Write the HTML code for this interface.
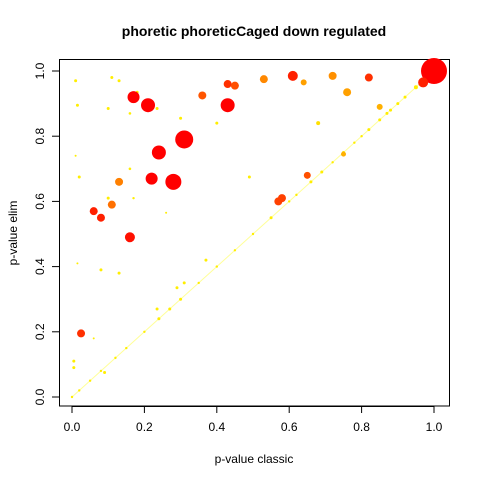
<!DOCTYPE html>
<html><head><meta charset="utf-8"><style>
body{margin:0;background:#fff}
svg{display:block;font-family:"Liberation Sans",Arial,sans-serif}
</style></head><body>
<svg id="chart" width="480" height="480" viewBox="0 0 480 480">
<text x="254" y="36" text-anchor="middle" font-size="14" font-weight="bold">phoretic phoreticCaged down regulated</text>
<rect x="59.5" y="59.5" width="390" height="346.5" fill="none" stroke="#000"/>
<g id="xaxis"></g>
<g id="yaxis"></g>
<text x="254" y="463" text-anchor="middle" font-size="12">p-value classic</text>
<text transform="translate(17,233) rotate(-90)" text-anchor="middle" font-size="12">p-value elim</text>
<g id="pts"></g>
</svg>
<script>
const ticks=[0,0.2,0.4,0.6,0.8,1.0];
const tickLabels=["0.0","0.2","0.4","0.6","0.8","1.0"];
const classicP=[1.0,0.31,0.28,0.24,0.21,0.17,0.22,0.43,0.36,0.43,0.45,0.13,0.11,0.06,0.08,0.16,0.53,0.61,0.64,0.72,0.82,0.76,0.85,0.68,0.65,0.57,0.58,0.75,0.97,0.025,
0.01,0.11,0.13,0.015,0.10,0.16,0.235,0.18,0.30,0.40,0.01,0.16,0.02,0.49,0.10,0.17,0.26,0.08,0.13,0.37,0.29,0.31,0.235,0.005,0.005,0.09,0.015,0.06,
0,0.02,0.05,0.08,0.12,0.15,0.2,0.24,0.27,0.3,0.35,0.4,0.45,0.5,0.55,0.6,0.62,0.66,0.69,0.72,0.75,0.78,0.8,0.82,0.85,0.87,0.88,0.9,0.92,0.95,0.98,0.99];
const elimP=[1.0,0.79,0.66,0.75,0.895,0.92,0.67,0.895,0.925,0.96,0.955,0.66,0.59,0.57,0.55,0.49,0.975,0.985,0.965,0.985,0.98,0.935,0.89,0.84,0.68,0.60,0.61,0.745,0.965,0.195,
0.97,0.98,0.97,0.895,0.885,0.87,0.885,0.935,0.855,0.84,0.74,0.70,0.675,0.675,0.61,0.61,0.565,0.39,0.38,0.42,0.335,0.35,0.27,0.11,0.09,0.075,0.41,0.18,
0,0.02,0.05,0.08,0.12,0.15,0.2,0.24,0.27,0.3,0.35,0.4,0.45,0.5,0.55,0.6,0.62,0.66,0.69,0.72,0.75,0.78,0.8,0.82,0.85,0.87,0.88,0.9,0.92,0.95,0.98,0.99];
const pointSize=[13,9,8,7,7,6,6,7,4,4,4,4,4,4,4,5,4,5,3,4,4,4,3,2,3.5,4,4,2.5,5,4,
1.5,1.5,1.5,1.5,1.5,1.3,1.5,1.5,1.5,1.5,1,1.3,1.5,1.5,1.5,1.2,1,1.5,1.5,1.5,1.5,1.5,1.5,1.5,1.5,1.5,1,1,
1.2,1.2,1.2,1.2,1.2,1.2,1.2,1.5,1.5,1.5,1.2,1.2,1.2,1.2,1.5,1.2,1.2,1.5,1.5,1.2,1.5,1.2,1.2,1.5,1.5,1.5,1.5,1.5,1.5,2,2.5,2.5];
const pointColor=["#FF0000","#FF0000","#FF0000","#FF0000","#FF0000","#FF0000","#FF0000","#FF0000","#FF5500","#FF3000","#FF5000","#FF8000","#FF7000","#FF2000","#FF2000","#FF1000","#FF8800","#FF2000","#FFA000","#FF9000","#FF3000","#FFA000","#FFB000","#FFE000","#FF5000","#FF4000","#FF4000","#FFB000","#FF2000","#FF3000"];
const sx=v=>72+v*362, sy=v=>397-v*326;
const NS="http://www.w3.org/2000/svg";
const xa=document.getElementById('xaxis'), ya=document.getElementById('yaxis');
function mk(t,a,p){const e=document.createElementNS(NS,t);for(const k in a)e.setAttribute(k,a[k]);p.appendChild(e);return e;}
mk('line',{x1:sx(0),x2:sx(1),y1:406.5,y2:406.5,stroke:'#000'},xa);
mk('line',{x1:59.5,x2:59.5,y1:sy(0),y2:sy(1),stroke:'#000'},ya);
ticks.forEach((t,i)=>{
 const tx=mk('line',{x1:sx(t),x2:sx(t),y1:406,y2:413,stroke:'#000'},xa);
 
 
 const lx=mk('text',{x:sx(t),y:431,'text-anchor':'middle','font-size':12},xa);lx.textContent=tickLabels[i];
 
 
 const ty=mk('line',{x1:52,x2:59.5,y1:sy(t),y2:sy(t),stroke:'#000'},ya);
 
 
 const ly=mk('text',{transform:`translate(44,${sy(t)}) rotate(-90)`,'text-anchor':'middle','font-size':12},ya);ly.textContent=tickLabels[i];
 
 
});
const pg=document.getElementById('pts');
mk('line',{x1:sx(0),y1:sy(0),x2:sx(1),y2:sy(1),stroke:'#FFFF99','stroke-width':1},pg);
const order=classicP.map((_,i)=>i).sort((a,b)=>(a<30?1:0)-(b<30?1:0));
order.forEach(i=>{
 const c=mk('circle',{cx:sx(classicP[i]),cy:sy(elimP[i]),r:pointSize[i],fill:pointColor[i]||'#FFEE00'},pg);
 
 
});
</script>
</body></html>
